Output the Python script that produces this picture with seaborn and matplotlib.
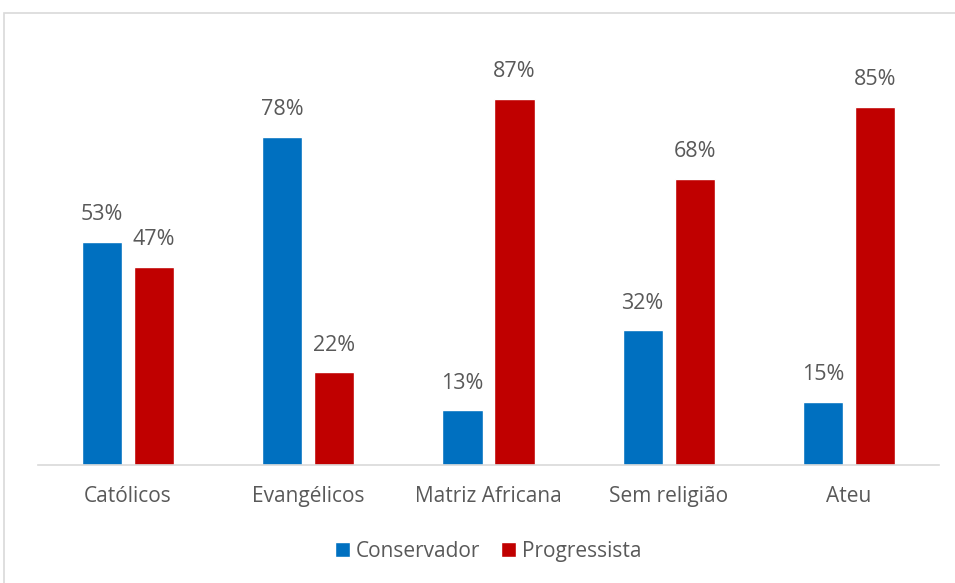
import matplotlib
matplotlib.use("Agg")
import matplotlib.pyplot as plt
import seaborn as sns
import pandas as pd
from matplotlib.patches import Rectangle

categories = ["Católicos", "Evangélicos", "Matriz Africana", "Sem religião", "Ateu"]
series_names = ["Conservador", "Progressista"]
conservador = [53, 78, 13, 32, 15]
progressista = [47, 22, 87, 68, 85]
colors = ["#0070C0", "#C00000"]

df = pd.DataFrame({
    "cat": categories * 2,
    "serie": [series_names[0]] * len(categories) + [series_names[1]] * len(categories),
    "val": conservador + progressista,
})

sns.set_theme(style="white")
plt.rcParams["font.family"] = ["Open Sans", "DejaVu Sans"]
text_color = "#595959"

fig = plt.figure(figsize=(9.55, 5.83), dpi=100)
W, H = 955, 583
ax = fig.add_axes([38 / W, (H - 465) / H, (939 - 38) / W, (465 - 44) / H])

sns.barplot(data=df, x="cat", y="val", hue="serie", order=categories,
            hue_order=series_names, palette=colors, width=0.578, gap=0.23,
            saturation=1, ax=ax, legend=True)

ax.set_ylim(0, 100)
ax.set_xlim(-0.5, len(categories) - 0.5)
ax.set_xlabel("")
ax.set_ylabel("")
ax.set_yticks([])
for s in ["top", "right", "left"]:
    ax.spines[s].set_visible(False)
ax.spines["bottom"].set_color("#D9D9D9")
ax.spines["bottom"].set_linewidth(1.2)
ax.tick_params(axis="x", length=0, pad=15, labelsize=15, labelcolor=text_color)

for cont in ax.containers:
    labels = [f"{v:.0f}%" for v in cont.datavalues]
    ax.bar_label(cont, labels=labels, padding=12, fontsize=15.5, color=text_color)

leg = ax.legend(loc="center", bbox_to_anchor=(0.5, -0.205), ncol=2, frameon=False,
                fontsize=15, handlelength=0.7, handleheight=0.7,
                handletextpad=0.3, columnspacing=1.0)
for t in leg.get_texts():
    t.set_color(text_color)

fig.patches.append(Rectangle((4 / W, -0.1), 1.2, 1 - 13 / H + 0.1,
                             transform=fig.transFigure, fill=False,
                             edgecolor="#D9D9D9", linewidth=1.2))

fig.savefig("out.png", dpi=100)
